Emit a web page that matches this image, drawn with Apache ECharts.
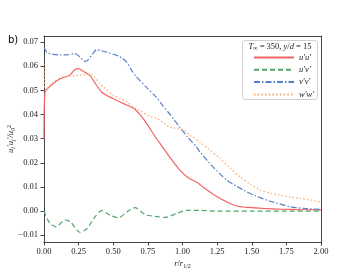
<!DOCTYPE html>
<html><head><meta charset="utf-8">
<script src="https://cdn.jsdelivr.net/npm/echarts@6/dist/echarts.min.js"></script>
<style>html,body{margin:0;padding:0;background:#fff}#c{width:357px;height:276px}</style>
</head><body><div id="c"></div>
<script>
const xTicks = [0, 0.25, 0.5, 0.75, 1.0, 1.25, 1.5, 1.75, 2.0];
const yTicks = [-0.01, 0, 0.01, 0.02, 0.03, 0.04, 0.05, 0.06, 0.07];
const names = ["u′u′", "u′v′", "v′v′", "w′w′"];

const uuR = [0, 0.007, 0.05, 0.116, 0.15, 0.185, 0.224, 0.25, 0.28, 0.33, 0.38, 0.416, 0.45, 0.5, 0.55, 0.6, 0.65, 0.7, 0.75, 0.8, 0.85, 0.9, 0.98, 1.05, 1.1, 1.17, 1.25, 1.32, 1.39, 1.48, 1.58, 1.7, 1.85, 2.0];
const uuV = [0.030, 0.0493, 0.052, 0.0548, 0.0555, 0.0562, 0.0586, 0.059, 0.058, 0.0562, 0.052, 0.0493, 0.048, 0.0466, 0.0452, 0.0438, 0.0425, 0.0395, 0.0355, 0.031, 0.027, 0.023, 0.017, 0.0135, 0.012, 0.009, 0.0059, 0.0038, 0.0021, 0.0015, 0.0011, 0.0008, 0.0006, 0.0005];

const uvR = [0, 0.007, 0.043, 0.09, 0.15, 0.19, 0.26, 0.31, 0.37, 0.416, 0.477, 0.537, 0.6, 0.657, 0.73, 0.8, 0.874, 0.958, 1.03, 1.126, 1.25, 1.5, 1.75, 2.0];
const uvV = [0, -0.001, -0.0051, -0.0065, -0.0037, -0.0044, -0.0088, -0.0072, -0.0023, 0.0002, -0.0017, -0.0028, -0.0003, 0.0014, -0.0014, -0.0022, -0.0026, -0.001, 0.0003, 0.0003, 0.0, 0.0, 0.0, 0.0];

const vvR = [0, 0.02, 0.067, 0.12, 0.164, 0.224, 0.26, 0.296, 0.32, 0.35, 0.38, 0.42, 0.453, 0.525, 0.56, 0.597, 0.63, 0.67, 0.74, 0.81, 0.86, 0.91, 0.98, 1.04, 1.1, 1.126, 1.22, 1.32, 1.44, 1.52, 1.61, 1.7, 1.776, 1.88, 2.0];
const vvV = [0.0679, 0.0658, 0.0649, 0.0647, 0.0647, 0.0652, 0.0638, 0.062, 0.0627, 0.065, 0.0668, 0.0663, 0.0658, 0.0645, 0.0635, 0.0617, 0.0585, 0.0555, 0.0512, 0.0472, 0.0435, 0.040, 0.0348, 0.0305, 0.0266, 0.0245, 0.0183, 0.0128, 0.0087, 0.0065, 0.0045, 0.003, 0.0018, 0.0011, 0.0007];

const wwR = [0, 0.008, 0.02, 0.067, 0.128, 0.19, 0.25, 0.3, 0.33, 0.36, 0.4, 0.43, 0.5, 0.55, 0.6, 0.645, 0.69, 0.765, 0.81, 0.91, 1.0, 1.05, 1.126, 1.2, 1.27, 1.34, 1.415, 1.49, 1.56, 1.63, 1.7, 1.78, 1.85, 1.93, 2.0];
const wwV = [0.061, 0.050, 0.0507, 0.0534, 0.0555, 0.0558, 0.0563, 0.0566, 0.0567, 0.0558, 0.053, 0.0514, 0.048, 0.0466, 0.0452, 0.043, 0.0417, 0.0392, 0.0385, 0.0348, 0.0338, 0.0315, 0.0286, 0.0252, 0.0218, 0.018, 0.0142, 0.0112, 0.0087, 0.0075, 0.0066, 0.0058, 0.0052, 0.0045, 0.0038];

const colors = ["#f26464", "#55a468", "#5a82c6", "#fba968"];
const dashes = ["solid", [5, 3], [6, 2, 1.5, 2], [1.5, 2.2]];
const pairs = (xs, ys) => xs.map((x, i) => [x, ys[i]]);
const allData = [pairs(uuR, uuV), pairs(uvR, uvV), pairs(vvR, vvV), pairs(wwR, wwV)];

const serif = "'Liberation Serif', 'DejaVu Serif', serif";
const chart = echarts.init(document.getElementById('c'), null, {renderer: 'canvas'});
const yMin = -0.0128, yMax = 0.0725;
const lineCol = '#444';
const txt = '#222';
chart.setOption({
  animation: false,
  backgroundColor: '#fff',
  graphic: [{
    type: 'rect', z: 3, silent: true,
    shape: {x: 242.5, y: 40.5, width: 75, height: 59, r: 3},
    style: {fill: 'rgba(255,255,255,0.85)', stroke: '#cfcfcf', lineWidth: 1}
  }],
  title: [
    {text: 'b)', left: 8, top: 35, padding: 0, textStyle: {fontSize: 10, fontWeight: 'normal', color: '#000', fontFamily: "'DejaVu Sans', sans-serif"}},
    {text: '{i|T}{s|∞} = 350, {i|y}/{i|d} = 15', left: 280, top: 42, textAlign: 'center', padding: 0, z: 6,
     textStyle: {fontSize: 8.5, fontWeight: 'normal', color: txt, fontFamily: serif,
       rich: {i: {fontStyle: 'italic', fontSize: 8.5, fontFamily: serif, color: txt},
              s: {fontSize: 6, fontFamily: serif, color: txt, verticalAlign: 'bottom'}}}}
  ],
  legend: {
    orient: 'vertical', left: 243, top: 40, z: 6,
    padding: [13, 0, 0, 10],
    itemWidth: 40, itemHeight: 8, itemGap: 3.3,
    data: names,
    itemStyle: {opacity: 0},
    textStyle: {fontSize: 8.5, fontFamily: serif, fontStyle: 'italic', color: txt}
  },
  grid: {left: 44, right: 36, top: 36, bottom: 34, containLabel: false, outerBoundsMode: 'none'},
  xAxis: [{
    type: 'value', min: 0, max: 2, interval: 0.25,
    name: '{i|r}/{i|r}{sub|1/2}', nameLocation: 'middle', nameGap: 16, nameMoveOverlap: false,
    nameTextStyle: {fontSize: 8.5, color: txt, fontFamily: serif,
      rich: {i: {fontStyle: 'italic', fontSize: 8.5, fontFamily: serif, color: txt},
             sub: {fontStyle: 'normal', fontSize: 6, fontFamily: serif, color: txt, verticalAlign: 'top', padding: [5, 0, 0, 0]}}},
    axisLine: {onZero: false, lineStyle: {color: lineCol, width: 1}},
    axisTick: {show: true, length: 3.5, inside: false, lineStyle: {color: lineCol}},
    axisLabel: {fontSize: 8.5, fontFamily: serif, color: txt, margin: 5, formatter: v => v.toFixed(2)},
    splitLine: {show: false}
  }, {
    type: 'value', min: 0, max: 2, position: 'top',
    axisLine: {show: true, onZero: false, lineStyle: {color: lineCol, width: 1}},
    axisTick: {show: false}, axisLabel: {show: false}, splitLine: {show: false}
  }],
  yAxis: [{
    type: 'value', min: yMin, max: yMax,
    name: '{n|u}{sb|i}{n|′u}{sb|j}{n|′/u}{sb|0}{sp|2}', nameLocation: 'middle', nameGap: 28, nameRotate: 90, nameMoveOverlap: false,
    nameTextStyle: {fontSize: 8.5, color: txt, fontFamily: serif,
      rich: {n: {fontStyle: 'italic', fontSize: 8.5, fontFamily: serif, color: txt},
             sb: {fontStyle: 'italic', fontSize: 6, fontFamily: serif, color: txt, verticalAlign: 'top', padding: [5, 0, 0, 0]},
             sp: {fontSize: 6, fontFamily: serif, color: txt, verticalAlign: 'bottom', padding: [0, 0, 4, 0]}}},
    axisLine: {show: true, onZero: false, lineStyle: {color: lineCol, width: 1}},
    axisTick: {show: true, length: 3.5, customValues: yTicks, lineStyle: {color: lineCol}},
    axisLabel: {fontSize: 8.5, fontFamily: serif, color: txt, margin: 6, customValues: yTicks,
      formatter: v => (v < -1e-9 ? '−' : '') + Math.abs(v).toFixed(2)},
    splitLine: {show: false}
  }, {
    type: 'value', min: yMin, max: yMax, position: 'right',
    axisLine: {show: true, onZero: false, lineStyle: {color: lineCol, width: 1}},
    axisTick: {show: false}, axisLabel: {show: false}, splitLine: {show: false}
  }],
  series: names.map((n, i) => ({
    name: n, type: 'line', data: allData[i], symbol: 'none', showSymbol: false,
    smooth: 0.25, xAxisIndex: 0, yAxisIndex: 0,
    lineStyle: {color: colors[i], width: 1.2, type: dashes[i]},
    itemStyle: {color: colors[i]}
  }))
});
</script></body></html>
